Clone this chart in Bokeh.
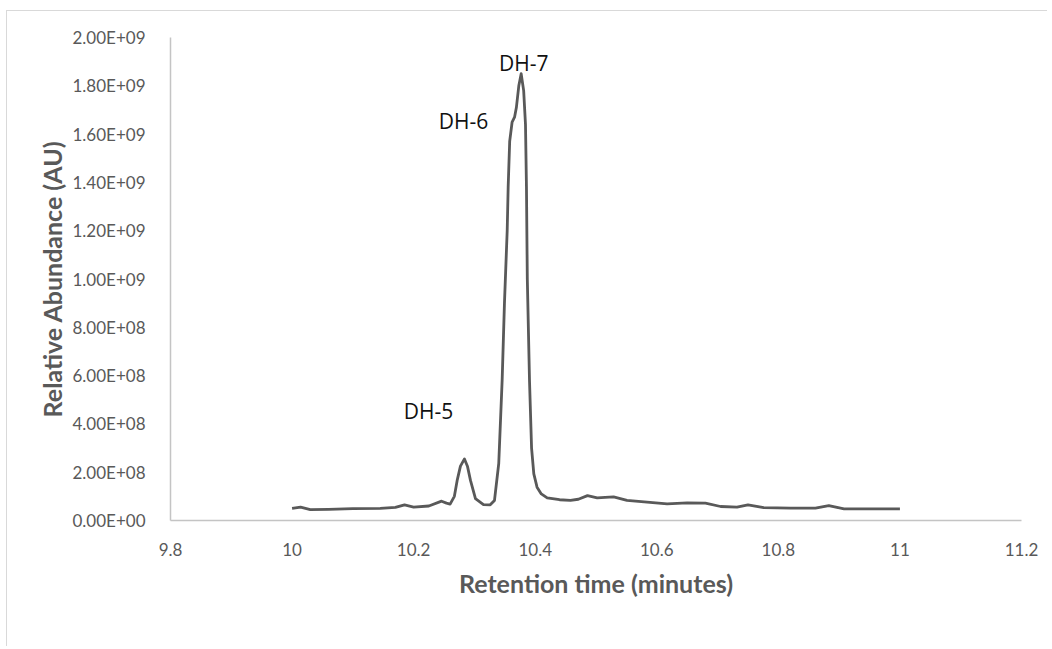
from bokeh.plotting import figure
from bokeh.models import FixedTicker, CustomJSTickFormatter, Range1d
from bokeh.core.properties import value
from bokeh.embed import file_html
from bokeh.resources import INLINE

# Retention time (minutes)
rt = [10.000, 10.014, 10.030, 10.060, 10.100, 10.145, 10.170, 10.185, 10.200, 10.225,
      10.246, 10.254, 10.260, 10.267, 10.2716, 10.277, 10.2836, 10.2885, 10.2935, 10.3017,
      10.3149, 10.326, 10.333, 10.340, 10.3456, 10.3494, 10.3539, 10.3555, 10.358, 10.362,
      10.366, 10.369, 10.373, 10.3769, 10.381, 10.384, 10.3856, 10.387, 10.3906, 10.394,
      10.3977, 10.403, 10.410, 10.4197, 10.440, 10.458, 10.471, 10.486, 10.502, 10.515,
      10.529, 10.551, 10.584, 10.617, 10.650, 10.680, 10.705, 10.732, 10.750, 10.776,
      10.820, 10.861, 10.883, 10.908, 10.950, 11.000]
# Relative abundance (AU)
abundance = [5.0e7, 5.5e7, 4.5e7, 4.6e7, 4.9e7, 5.0e7, 5.4e7, 6.5e7, 5.5e7, 6.0e7,
             8.0e7, 7.2e7, 6.8e7, 1.0e8, 1.66e8, 2.25e8, 2.55e8, 2.25e8, 1.66e8, 9.1e7,
             6.6e7, 6.5e7, 8.3e7, 2.36e8, 5.8e8, 9.0e8, 1.2e9, 1.38e9, 1.57e9, 1.65e9,
             1.67e9, 1.71e9, 1.80e9, 1.85e9, 1.78e9, 1.64e9, 1.38e9, 1.0e9, 5.8e8, 3.0e8,
             1.93e8, 1.38e8, 1.10e8, 9.4e7, 8.6e7, 8.3e7, 8.8e7, 1.03e8, 9.4e7, 9.6e7,
             9.8e7, 8.3e7, 7.6e7, 6.9e7, 7.3e7, 7.2e7, 5.8e7, 5.5e7, 6.5e7, 5.3e7,
             5.1e7, 5.1e7, 6.2e7, 4.8e7, 4.8e7, 4.8e7]

x_ticks = [9.8, 10.0, 10.2, 10.4, 10.6, 10.8, 11.0, 11.2]
y_ticks = [0, 2e8, 4e8, 6e8, 8e8, 1e9, 1.2e9, 1.4e9, 1.6e9, 1.8e9, 2e9]

peak_labels = ["DH-5", "DH-6", "DH-7"]
peak_x = [10.2244, 10.282, 10.381]
peak_y = [4.55e8, 1.656e9, 1.896e9]

p = figure(width=1041, height=636, output_backend="svg", toolbar_location=None,
           x_range=Range1d(9.8, 11.2), y_range=Range1d(0, 2e9),
           min_border_left=163, min_border_right=27, min_border_top=26, min_border_bottom=127)
p.styles = {"border-top": "1px solid #d9d9d9", "border-left": "1px solid #d9d9d9",
            "margin-left": "6px", "margin-top": "10px"}
p.outline_line_color = None
p.grid.visible = False

p.line(rt, abundance, line_color="#595959", line_width=2.8, line_join="round")

p.text(x=peak_x, y=peak_y, text=peak_labels, text_align="center", text_baseline="middle",
       text_font=value("Open Sans"), text_font_size="21px", text_color="#111111")

for ax in (p.xaxis[0], p.yaxis[0]):
    ax.axis_line_color = "#c4c4c4"
    ax.axis_line_width = 1.5
    ax.major_tick_line_color = None
    ax.minor_tick_line_color = None
    ax.major_label_text_font = "Lato"
    ax.major_label_text_font_size = "17px"
    ax.major_label_text_color = "#595959"
    ax.axis_label_text_font = "Lato"
    ax.axis_label_text_font_style = "bold"
    ax.axis_label_text_font_size = "25px"
    ax.axis_label_text_color = "#595959"

p.xaxis.ticker = FixedTicker(ticks=x_ticks)
p.xaxis.formatter = CustomJSTickFormatter(code="return (Math.round(tick*10)/10).toString();")
p.xaxis.major_label_standoff = 16
p.xaxis.axis_label = "Retention time (minutes)"
p.xaxis.axis_label_standoff = 9

p.yaxis.ticker = FixedTicker(ticks=y_ticks)
p.yaxis.formatter = CustomJSTickFormatter(code="""
const s = tick.toExponential(2);
const parts = s.split('e');
const e = parts[1];
return parts[0] + 'E' + e[0] + e.slice(1).padStart(2, '0');
""")
p.yaxis.major_label_standoff = 19
p.yaxis.axis_label = "Relative Abundance (AU)"
p.yaxis.axis_label_standoff = 3

open("out.html", "w").write(file_html(p, INLINE))
